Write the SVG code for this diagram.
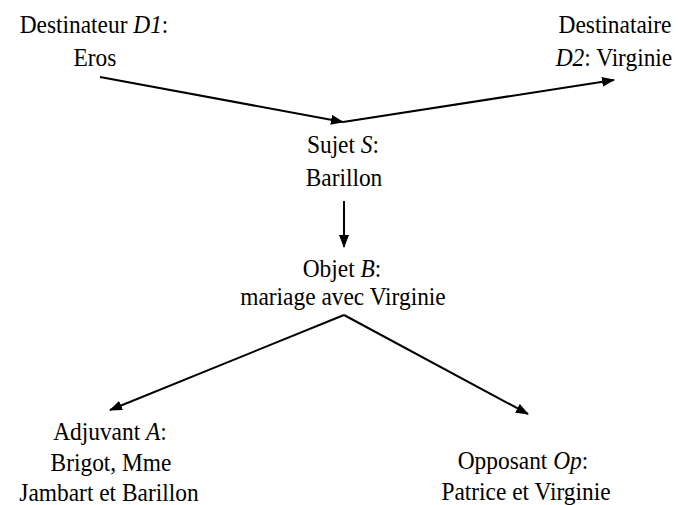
<svg xmlns="http://www.w3.org/2000/svg" width="680" height="505" viewBox="0 0 680 505">
<style>
text{font-family:"Liberation Serif","Times New Roman",serif;font-size:26px;fill:#000;text-anchor:middle;transform:scaleX(0.9);transform-box:fill-box;transform-origin:center}
.c line{stroke:#000;stroke-width:2;fill:none}
</style>
<defs>
<marker id="ah" viewBox="0 0 13 10" refX="12" refY="5" markerWidth="13" markerHeight="10" markerUnits="userSpaceOnUse" orient="auto">
<path d="M0,0 L13,5 L0,10 z" fill="#000"/>
</marker>
</defs>
<rect width="680" height="505" fill="#fff"/>
<g class="c" id="connectors">
<line x1="100" y1="77" x2="343" y2="122" marker-end="url(#ah)"/>
<line x1="343" y1="122" x2="614" y2="80" marker-end="url(#ah)"/>
<line x1="344" y1="201" x2="344" y2="247" marker-end="url(#ah)"/>
<line x1="344" y1="315" x2="110" y2="410" marker-end="url(#ah)"/>
<line x1="344" y1="315" x2="528" y2="414" marker-end="url(#ah)"/>
</g>
<g id="destinateur">
<text x="94" y="33">Destinateur <tspan font-style="italic">D1</tspan>:</text>
<text x="95" y="66">Eros</text>
</g>
<g id="destinataire">
<text x="615" y="33">Destinataire</text>
<text x="614" y="66"><tspan font-style="italic">D2</tspan>: Virginie</text>
</g>
<g id="sujet">
<text x="343" y="153">Sujet <tspan font-style="italic">S</tspan>:</text>
<text x="344" y="186">Barillon</text>
</g>
<g id="objet">
<text x="342" y="277">Objet <tspan font-style="italic">B</tspan>:</text>
<text x="343" y="305">mariage avec Virginie</text>
</g>
<g id="adjuvant">
<text x="110" y="440">Adjuvant <tspan font-style="italic">A</tspan>:</text>
<text x="111" y="471">Brigot, Mme</text>
<text x="109" y="501">Jambart et Barillon</text>
</g>
<g id="opposant">
<text x="523" y="469">Opposant <tspan font-style="italic">Op</tspan>:</text>
<text x="526" y="500">Patrice et Virginie</text>
</g>
</svg>
